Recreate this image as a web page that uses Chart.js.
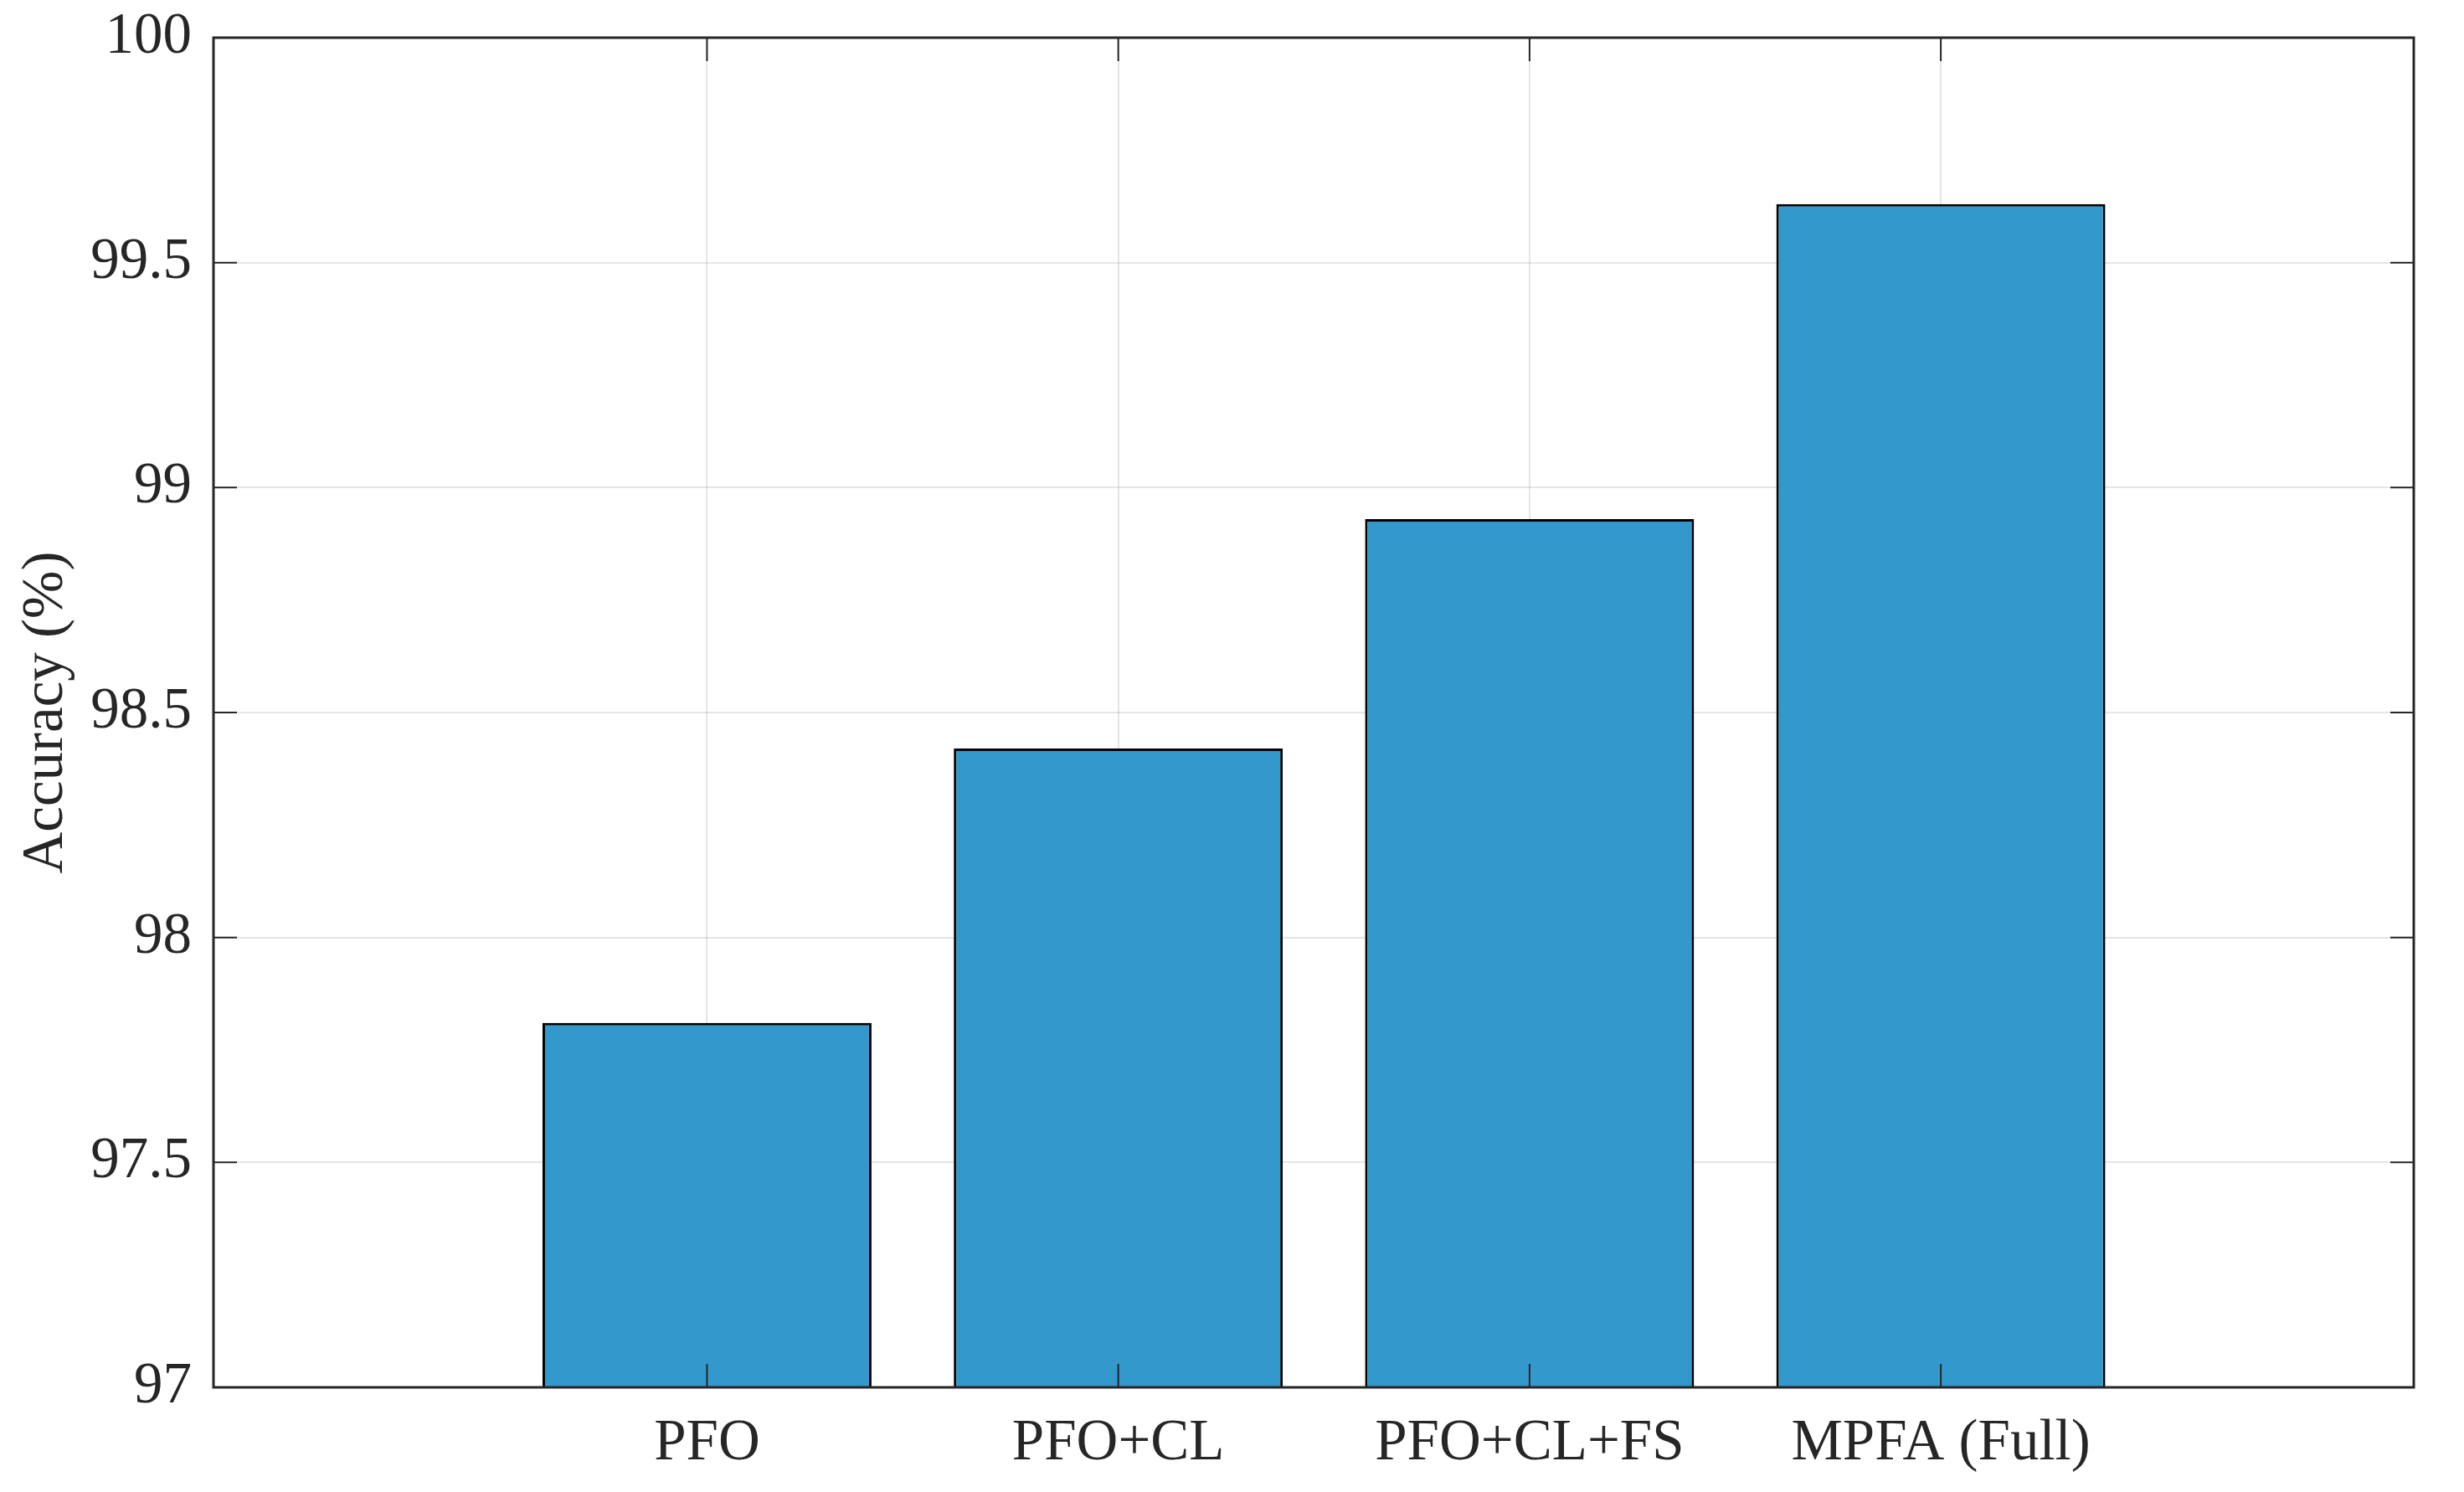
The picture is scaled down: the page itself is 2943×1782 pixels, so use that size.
<!DOCTYPE html>
<html>
<head>
<meta charset="utf-8">
<script src="https://cdn.jsdelivr.net/npm/chart.js@4/dist/chart.umd.min.js"></script>
<style>
  html, body { margin: 0; padding: 0; background: #fff; }
  #wrap { width: 2943px; height: 1782px; }
</style>
</head>
<body>
<div id="wrap"><canvas id="accChart" width="2943" height="1782"></canvas></div>
<script>
// data
const categories = ["PFO", "PFO+CL", "PFO+CL+FS", "MPFA (Full)"]
const accuracy = [97.81, 98.42, 98.93, 99.63]
const yTicks = [97, 97.5, 98, 98.5, 99, 99.5, 100]

const axisColor = "#262626"
const fontFamily = "'Liberation Serif', 'Times New Roman', serif"

// MATLAB style box with inward ticks on all four sides
const boxPlugin = {
  id: "boxPlugin",
  afterDatasetsDraw(chart) {
    const {ctx, chartArea: a} = chart
    const xs = chart.scales.x, ys = chart.scales.y
    const tl = 28
    ctx.save()
    ctx.strokeStyle = axisColor
    ctx.lineWidth = 3
    ctx.strokeRect(a.left, a.top, a.right - a.left, a.bottom - a.top)
    ctx.lineWidth = 2
    ctx.beginPath()
    categories.forEach((c, i) => {
      const px = xs.getPixelForValue(i + 1)
      ctx.moveTo(px, a.bottom); ctx.lineTo(px, a.bottom - tl)
      ctx.moveTo(px, a.top); ctx.lineTo(px, a.top + tl)
    })
    yTicks.forEach(v => {
      const py = ys.getPixelForValue(v)
      ctx.moveTo(a.left, py); ctx.lineTo(a.left + tl, py)
      ctx.moveTo(a.right, py); ctx.lineTo(a.right - tl, py)
    })
    ctx.stroke()
    ctx.restore()
  }
}

new Chart(document.getElementById("accChart"), {
  type: "bar",
  data: {
    datasets: [{
      label: "Accuracy",
      data: categories.map((c, i) => ({x: i + 1, y: accuracy[i]})),
      backgroundColor: "#3398cb",
      borderColor: "#000000",
      borderWidth: 3,
      barPercentage: 0.8,
      categoryPercentage: 1.0
    }]
  },
  options: {
    responsive: false,
    animation: false,
    layout: { padding: { top: 45, right: 60, left: 0, bottom: 0 } },
    plugins: {
      legend: { display: false },
      tooltip: { enabled: false }
    },
    scales: {
      x: {
        type: "linear",
        offset: false,
        min: -0.2,
        max: 5.15,
        afterBuildTicks: (s) => { s.ticks = categories.map((c, i) => ({value: i + 1})) },
        afterFit: (s) => { s.height = 125; s.paddingLeft = 0; s.paddingRight = 0 },
        ticks: {
          autoSkip: false,
          maxRotation: 0,
          padding: 26,
          color: axisColor,
          font: { family: fontFamily, size: 69 },
          callback: (v) => categories[Math.round(v) - 1]
        },
        grid: { offset: false, color: "rgba(38,38,38,0.12)", lineWidth: 2, drawTicks: false },
        border: { display: false }
      },
      y: {
        min: 97,
        max: 100,
        afterBuildTicks: (s) => { s.ticks = yTicks.map(v => ({value: v})) },
        afterFit: (s) => { s.width = 255; s.paddingTop = 0; s.paddingBottom = 0 },
        ticks: {
          padding: 26,
          color: axisColor,
          font: { family: fontFamily, size: 69 },
          callback: (v) => String(v)
        },
        grid: { color: "rgba(38,38,38,0.12)", lineWidth: 2, drawTicks: false },
        border: { display: false },
        title: {
          display: true,
          text: "Accuracy (%)",
          color: axisColor,
          font: { family: fontFamily, size: 69 },
          padding: { top: 14, bottom: 0 }
        }
      }
    }
  },
  plugins: [boxPlugin]
})
</script>
</body>
</html>
